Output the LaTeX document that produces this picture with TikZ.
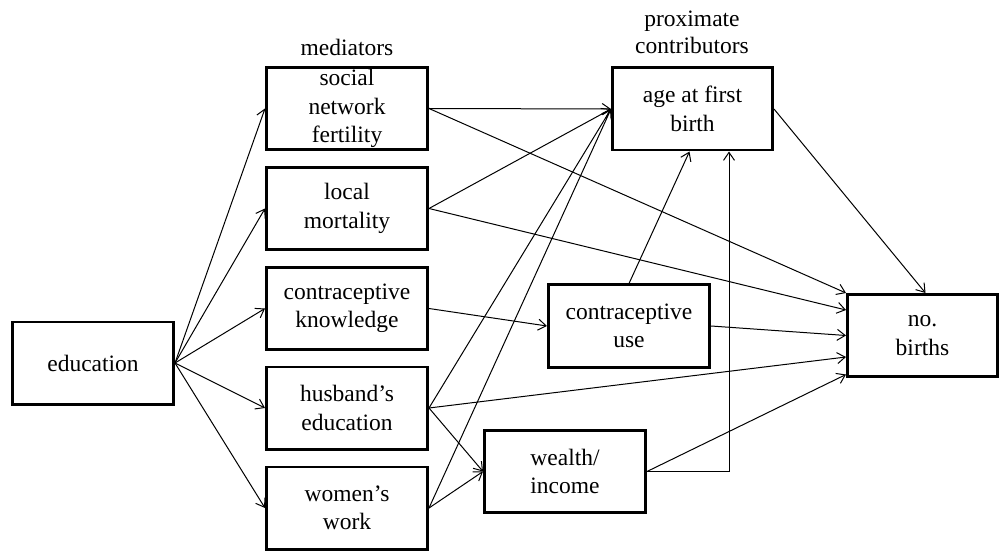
\documentclass[tikz,border=0pt]{standalone}
\usepackage{fontspec}
\setmainfont{Liberation Serif}
\usetikzlibrary{arrows.meta,calc}
\begin{document}
\begin{tikzpicture}[x=1pt,y=-1pt,
  box/.style={draw,line width=2.6pt,minimum width=161.4pt,minimum height=82.4pt,
    align=center,inner sep=0pt,font=\fontsize{23.5}{28.5}\selectfont},
  lbl/.style={align=center,inner sep=0pt,font=\fontsize{23.5}{27}\selectfont},
  conn/.style={line width=1pt,-{Straight Barb[length=8pt,width=11pt]}}]
\useasboundingbox (0,0) rectangle (1001,553);

\node[box] (edu) at (93,363) {education};
\node[box] (m1) at (347,108.5) {social\\network\\fertility};
\node[box] (m2) at (347,208.5) {local\\mortality};
\node[box] (m3) at (347,308.5) {contraceptive\\knowledge};
\node[box] (m4) at (347,408) {husband’s\\education};
\node[box] (m5) at (347,508) {women’s\\work};
\node[box,minimum width=160.4pt] (age) at (692.5,109) {age at first\\birth};
\node[box] (cuse) at (629,326) {contraceptive\\use};
\node[box] (wealth) at (565,471.5) {wealth/\\income};
\node[box,minimum width=150.4pt] (births) at (922.5,335.5) {no.\\births};

\node[lbl] (medlbl) at (347,47) {mediators};
\node[lbl] (proxlbl) at (692,32) {proximate\\contributors};

\coordinate (b1) at ([yshift=25.5pt]births.west);
\coordinate (b2) at (births.west);
\coordinate (b3) at ([yshift=-21.5pt]births.west);
\coordinate (b4) at ([yshift=-39pt]births.west);
\coordinate (agecu) at ([xshift=-3pt]age.south);
\coordinate (agew) at ([xshift=36.5pt]age.south);
\coordinate (birthsn) at ([xshift=3pt]births.north);

\foreach \m in {m1,m2,m3,m4,m5} \draw[conn] (edu.east) -- (\m.west);

\draw[conn] (m1.east) -- (age.west);
\draw[conn] (m1.east) -- (births.north west);
\draw[conn] (m2.east) -- (age.west);
\draw[conn] (m2.east) -- (b1);
\draw[conn] (m3.east) -- (cuse.west);
\draw[conn] (cuse.north) -- (agecu);
\draw[conn] (cuse.east) -- (b2);
\draw[conn] (m4.east) -- (age.west);
\draw[conn] (m4.east) -- (b3);
\draw[conn] (m4.east) -- (wealth.west);
\draw[conn] (m5.east) -- (age.west);
\draw[conn] (m5.east) -- (wealth.west);
\draw[conn] (wealth.east) -- (b4);
\draw[conn] (wealth.east) -| (agew);
\draw[conn] (age.east) -- (birthsn);
\end{tikzpicture}
\end{document}
